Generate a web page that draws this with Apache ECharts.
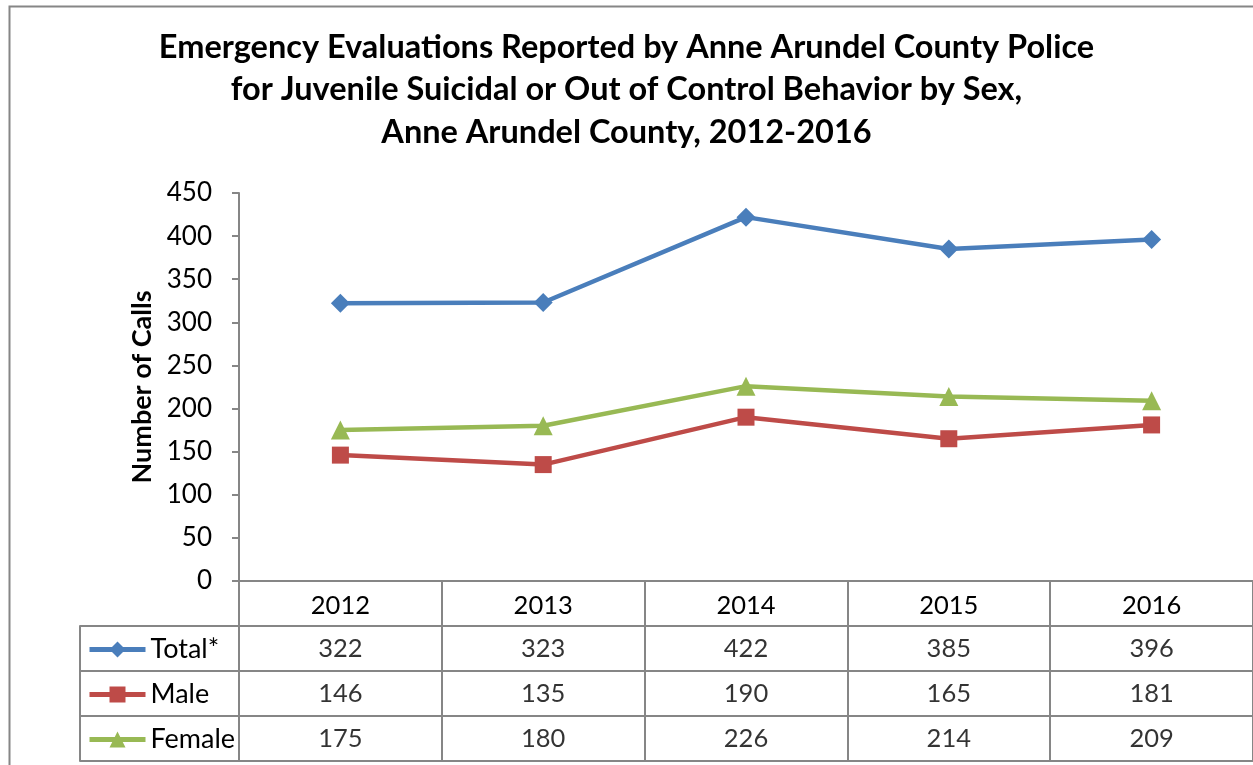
<!DOCTYPE html>
<html>
<head>
<meta charset="utf-8">
<script src="https://cdn.jsdelivr.net/npm/echarts@6/dist/echarts.min.js"></script>
<style>
    html, body { margin: 0; padding: 0; background: #fff; }
    #chart { width: 1253px; height: 765px; }
</style>
</head>
<body>
<div id="chart"></div>
<script>
var years = ['2012', '2013', '2014', '2015', '2016'];
var totalCalls = [322, 323, 422, 385, 396];
var maleCalls = [146, 135, 190, 165, 181];
var femaleCalls = [175, 180, 226, 214, 209];
var rowNames = ['', 'Total*', 'Male', 'Female'];

var font = 'Lato';
var gridGray = '#868686';

// cells of the data table under the plot
function cells(name, values) {
    var out = [];
    for (var i = 0; i < values.length; i++) {
        out.push([years[i], name, values[i]]);
    }
    return out;
}
var tableData = cells('Total*', totalCalls)
    .concat(cells('Male', maleCalls))
    .concat(cells('Female', femaleCalls));

var myChart = echarts.init(document.getElementById('chart'));
var option = {
    backgroundColor: '#fff',
    animation: false,
    title: {
        text: 'Emergency Evaluations Reported by Anne Arundel County Police\nfor Juvenile Suicidal or Out of Control Behavior by Sex,\nAnne Arundel County, 2012-2016',
        left: 'center',
        top: 21,
        textStyle: {
            fontFamily: font,
            fontSize: 32.5,
            fontWeight: 'bold',
            color: '#000',
            lineHeight: 42.5
        }
    },
    legend: {
        data: ['Total*', 'Male', 'Female'],
        orient: 'vertical',
        left: 87,
        top: 636,
        padding: 0,
        itemGap: 18,
        itemWidth: 56,
        itemHeight: 20,
        lineStyle: { width: 5 },
        textStyle: { fontFamily: font, fontSize: 27, lineHeight: 27, color: '#000' }
    },
    graphic: [{
        type: 'rect',
        left: 7, top: 4,
        shape: { width: 1270, height: 800 },
        style: { fill: 'none', stroke: gridGray, lineWidth: 2 },
        silent: true
    }],
    grid: [
        { left: 239, right: 0, top: 193, bottom: 184 },   // plot
        { left: 239, right: 0, top: 581, bottom: 4 },     // table cells
        { left: 80, width: 159, top: 626, bottom: 4 }     // legend column
    ],
    xAxis: [{
        type: 'category',
        data: years,
        boundaryGap: true,
        axisLine: { lineStyle: { color: gridGray, width: 2 } },
        axisTick: { show: false },
        axisLabel: { fontFamily: font, fontSize: 25.5, color: '#000', margin: 12 }
    }, {
        gridIndex: 1,
        type: 'category',
        data: years,
        boundaryGap: true,
        axisLine: { show: false },
        axisTick: { show: false },
        axisLabel: { show: false },
        splitLine: { show: true, lineStyle: { color: gridGray, width: 2 } }
    }, {
        gridIndex: 2,
        type: 'value',
        show: false
    }],
    yAxis: [{
        type: 'value',
        min: 0,
        max: 450,
        interval: 50,
        name: 'Number of Calls',
        nameLocation: 'middle',
        nameRotate: 90,
        nameGap: 80,
        nameTextStyle: { fontFamily: font, fontSize: 27, fontWeight: 'bold', color: '#000' },
        axisLine: { show: true, lineStyle: { color: gridGray, width: 2 } },
        axisTick: { show: true, length: 7, lineStyle: { color: gridGray, width: 2 } },
        axisLabel: { fontFamily: font, fontSize: 26, color: '#000', margin: 27 },
        splitLine: { show: false }
    }, {
        gridIndex: 1,
        type: 'category',
        data: rowNames,
        inverse: true,
        axisLine: { show: true, lineStyle: { color: gridGray, width: 2 } },
        axisTick: { show: false },
        axisLabel: { show: false },
        splitLine: { show: true, lineStyle: { color: gridGray, width: 2 } }
    }, {
        gridIndex: 2,
        type: 'category',
        data: rowNames.slice(1),
        inverse: true,
        axisLine: { show: true, lineStyle: { color: gridGray, width: 2 } },
        axisTick: { show: false },
        axisLabel: { show: false },
        splitLine: { show: true, lineStyle: { color: gridGray, width: 2 } }
    }],
    series: [{
        name: 'Total*',
        type: 'line',
        data: totalCalls,
        color: '#4A7EBB',
        symbol: 'diamond',
        symbolSize: 19,
        lineStyle: { width: 4.5 }
    }, {
        name: 'Male',
        type: 'line',
        data: maleCalls,
        color: '#BE4B48',
        symbol: 'rect',
        symbolSize: 17,
        lineStyle: { width: 4.5 }
    }, {
        name: 'Female',
        type: 'line',
        data: femaleCalls,
        color: '#98B954',
        symbol: 'triangle',
        symbolSize: 19,
        lineStyle: { width: 4.5 }
    }, {
        name: 'table',
        type: 'scatter',
        xAxisIndex: 1,
        yAxisIndex: 1,
        symbolSize: 0,
        data: tableData,
        label: {
            show: true,
            position: 'inside',
            fontFamily: font,
            fontSize: 25.5,
            color: '#000',
            formatter: function (p) { return p.value[2]; }
        }
    }]
};
myChart.setOption(option);
</script>
</body>
</html>
